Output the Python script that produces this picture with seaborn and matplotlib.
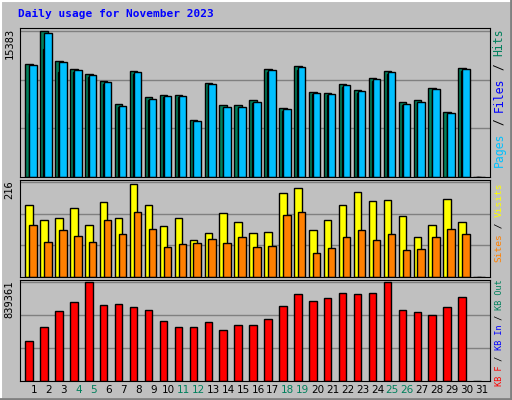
import numpy as np
import pandas as pd
import seaborn as sns
import matplotlib.pyplot as plt

days = list(range(1, 32))
weekend = [4, 5, 11, 12, 18, 19, 25, 26]

# pixel tops, converted to values below
hits_top = [62, 29, 59, 67, 72, 79, 103, 69, 96, 93, 93, 119, 81, 104, 104, 99, 67, 107, 64, 90, 91, 82, 88, 76, 69, 101, 99, 86, 111, 66]
hits = [round((176 - t) / 147 * 15383) for t in hits_top] + [0]
pages = [round(h * 0.985) for h in hits]
files = [round(p * 0.98) for p in pages]
files[0] = round((176 - 112) / 147 * 15383)
files[1] = round((176 - 47) / 147 * 15383)
files[2] = round((176 - 70) / 147 * 15383)

visits_top = [205, 220, 218, 208, 225, 202, 218, 184, 205, 226, 218, 240, 233, 213, 222, 232, 231, 193, 188, 230, 220, 205, 192, 201, 200, 216, 237, 224, 199, 221]
sites_top = [225, 241, 230, 235, 241, 220, 234, 212, 228, 246, 243, 242, 238, 242, 237, 246, 245, 215, 212, 252, 247, 237, 230, 240, 234, 249, 248, 237, 228, 234]
visits = [round((276 - t) / 94 * 216) for t in visits_top] + [0]
sites = [round((276 - t) / 94 * 216) for t in sites_top] + [0]

kb_top = [341, 328, 312, 303, 284, 306, 305, 308, 311, 322, 328, 328, 323, 331, 326, 326, 320, 307, 296, 302, 300, 295, 296, 295, 284, 311, 313, 316, 308, 299]
kbytes = [round((380 - t) / 96 * 839361) for t in kb_top] + [0]

BG = '#c0c0c0'
fig = plt.figure(figsize=(5.12, 4.0), dpi=100, facecolor=BG)
W, H = 512, 400
SHIFT = -0.2


def panel(y0, y1):
    ax = fig.add_axes([20 / W, 1 - y1 / H, 470 / W, (y1 - y0) / H])
    ax.set_facecolor(BG)
    return ax


def bars(ax, vals, off, width, color):
    df = pd.DataFrame({'x': [d + off + SHIFT for d in days], 'y': vals})
    sns.barplot(data=df, x='x', y='y', native_scale=True, width=width,
                color=color, edgecolor='black', linewidth=1, saturation=1, ax=ax)


def finish(ax, vmax, label):
    ax.set_xlim(0.06, 31.54)
    ax.set_ylim(0, vmax * 1.02)
    for f in (1 / 3, 2 / 3, 1):
        ax.axhline(vmax * f, color='#808080', lw=1, zorder=0)
    ax.set_xticks([]); ax.set_yticks([])
    ax.set_xlabel(''); ax.set_ylabel('')
    for s in ax.spines.values():
        s.set_color('black')
    ax.text(-0.022, 1.0, label, rotation=90, ha='center', va='top',
            transform=ax.transAxes, fontsize=7.5, family='DejaVu Sans Mono')


ax1 = panel(28, 177)
bars(ax1, hits, -0.13, 0.5, '#00805c')
bars(ax1, files, -0.07, 0.2, '#0000ff')
bars(ax1, pages, 0.13, 0.5, '#00c0ff')
finish(ax1, 15383, '15383')

ax2 = panel(180, 277)
bars(ax2, visits, -0.13, 0.5, '#ffff00')
bars(ax2, sites, 0.13, 0.5, '#ff8000')
finish(ax2, 216, '216')

ax3 = panel(280, 381)
bars(ax3, kbytes, -0.13, 0.5, '#ff0000')
finish(ax3, 839361, '839361')

# day labels
for d in days:
    x = (34 + (d - 1) * 14.93) / W
    fig.text(x, 1 - 390 / H, str(d), ha='center', va='center', fontsize=7.5,
             family='DejaVu Sans', color='#00805c' if d in weekend else 'black')

fig.text(18 / W, 1 - 14 / H, 'Daily usage for November 2023', ha='left', va='center',
         fontsize=8, fontweight='bold', family='DejaVu Sans Mono', color='#0000ff')


def side(pieces, ybottom, fs):
    y = ybottom
    step = 0.6 * fs * 100 / 72
    for txt, col in pieces:
        fig.text(499 / W, 1 - y / H, txt, rotation=90, ha='center', va='bottom',
                 fontsize=fs, family='DejaVu Sans Mono', color=col)
        y -= len(txt) * step


side([('Pages', '#00c0ff'), (' / ', 'black'), ('Files', '#0000ff'), (' / ', 'black'), ('Hits', '#00805c')], 167, 8.3)
side([('Sites', '#ff8000'), (' / ', 'black'), ('Visits', '#ffff00')], 262, 6.8)
side([('KB F', '#ff0000'), (' / ', 'black'), ('KB In', '#0000ff'), (' / ', 'black'), ('KB Out', '#00805c')], 386, 6.1)

# bevel border
fig.add_artist(plt.Rectangle((0.5 / W, 0.5 / H), 1 - 1 / W, 1 - 1 / H, transform=fig.transFigure,
                             fill=False, edgecolor='white', lw=1.5))
fig.add_artist(plt.Line2D([1 - 1.5 / W, 1 - 1.5 / W], [0, 1], transform=fig.transFigure, color='#808080', lw=2))
fig.add_artist(plt.Line2D([0, 1], [1.5 / H, 1.5 / H], transform=fig.transFigure, color='#808080', lw=2))

fig.savefig('out.png', dpi=100, facecolor=BG)
